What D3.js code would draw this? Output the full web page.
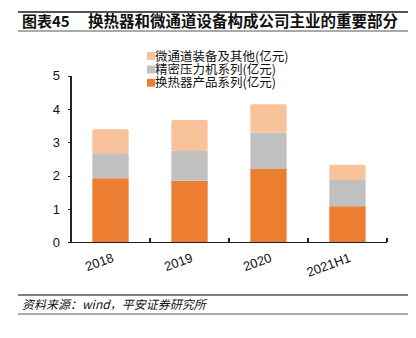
<!DOCTYPE html>
<html>
<head>
<meta charset="utf-8">
<title>换热器和微通道设备构成公司主业的重要部分</title>
<style>
body {
  margin: 0;
  background: white;
  font-family: "Liberation Sans", "Noto Sans CJK SC", sans-serif;
}
svg { display: block; }
.axis path, .axis line {
  stroke: #222;
  stroke-width: 1.3px;
  shape-rendering: crispEdges;
}
.axis text {
  font-family: "Liberation Sans", Arial, sans-serif;
  font-size: 13px;
  fill: #111;
}
</style>
<script src="https://d3js.org/d3.v7.min.js"></script>
</head>
<body>
<svg width="416" height="338"></svg>
<script>
  // data (亿元)
  const years = ['2018', '2019', '2020', '2021H1'];
  const exchanger = [1.92, 1.85, 2.20, 1.08];   // 换热器产品系列
  const press = [0.75, 0.89, 1.09, 0.79];       // 精密压力机系列
  const micro = [0.72, 0.93, 0.85, 0.46];       // 微通道装备及其他
  const yTicks = [0, 1, 2, 3, 4, 5];

  const series = [
    { name: '换热器产品系列(亿元)', values: exchanger, color: '#ED7D31' },
    { name: '精密压力机系列(亿元)', values: press, color: '#C0C0C0' },
    { name: '微通道装备及其他(亿元)', values: micro, color: '#F8C39B' }
  ];

  const svg = d3.select('svg');

  // title with rules
  svg.append('line').attr('x1', 18).attr('x2', 408).attr('y1', 12).attr('y2', 12)
    .attr('stroke', '#555').attr('stroke-width', 2);
  svg.append('line').attr('x1', 18).attr('x2', 408).attr('y1', 31).attr('y2', 31)
    .attr('stroke', '#555').attr('stroke-width', 1);
  svg.append('text').attr('x', 22).attr('y', 27)
    .attr('font-size', 15).attr('font-weight', 'bold').attr('fill', '#111')
    .attr('font-family', '"Noto Sans CJK SC", sans-serif')
    .text('图表45');
  svg.append('text').attr('x', 88).attr('y', 27)
    .attr('font-size', 15.5).attr('font-weight', 'bold').attr('fill', '#111')
    .attr('font-family', '"Noto Sans CJK SC", sans-serif')
    .text('换热器和微通道设备构成公司主业的重要部分');

  const x = d3.scaleBand().domain(years).range([71, 387])
    .paddingInner(0.54).paddingOuter(0.27);
  const y = d3.scaleLinear().domain([0, 5]).range([242.3, 75.7]);

  // stacked bars
  const rows = years.map((yr, i) => {
    const r = { year: yr };
    series.forEach((s, k) => { r['s' + k] = s.values[i]; });
    return r;
  });
  const stack = d3.stack().keys(series.map((s, k) => 's' + k))(rows);

  stack.forEach((layer, k) => {
    svg.append('g').selectAll('rect')
      .data(layer)
      .join('rect')
      .attr('x', d => x(d.data.year))
      .attr('width', x.bandwidth())
      .attr('y', d => y(d[1]))
      .attr('height', d => y(d[0]) - y(d[1]))
      .attr('rx', k === 2 ? 2 : 0.5)
      .attr('fill', series[k].color);
  });

  // y axis
  svg.append('g').attr('class', 'axis')
    .attr('transform', 'translate(71,0)')
    .call(d3.axisLeft(y).tickValues(yTicks).tickSize(3).tickPadding(8).tickFormat(d3.format('d')))
    .call(g => g.select('.domain').attr('d', `M-0,${y(5)}V${y(0)}`));

  // x axis: ticks at band boundaries, pointing up
  const xa = svg.append('g').attr('class', 'axis')
    .attr('transform', `translate(0,${y(0)})`);
  xa.append('line').attr('x1', 71).attr('x2', 387).attr('y1', 0).attr('y2', 0);
  const step = x.step();
  years.forEach(yr => {
    const bx = x(yr) + x.bandwidth() / 2 + step / 2;
    xa.append('line').attr('x1', bx).attr('x2', bx).attr('y1', 0).attr('y2', -4);
  });
  xa.selectAll('text.lab')
    .data(years)
    .join('text')
    .attr('class', 'lab')
    .attr('text-anchor', 'end')
    .attr('transform', d => `translate(${x(d) + x.bandwidth() / 2 + 4},${y(0) - 242.3 + 19}) rotate(-20)`)
    .text(d => d);

  // legend
  const legendOrder = [2, 1, 0];
  const lg = svg.append('g').attr('font-family', '"Noto Sans CJK SC", sans-serif')
    .attr('font-size', 12.5).attr('fill', '#111');
  legendOrder.forEach((k, i) => {
    const ly = 56 + i * 13.4;
    lg.append('rect').attr('x', 147).attr('y', ly - 4).attr('width', 8).attr('height', 8)
      .attr('rx', 1).attr('fill', series[k].color);
    lg.append('text').attr('x', 155).attr('y', ly + 4.5).text(series[k].name);
  });

  // source
  svg.append('line').attr('x1', 18).attr('x2', 408).attr('y1', 295).attr('y2', 295)
    .attr('stroke', '#555').attr('stroke-width', 1.5);
  svg.append('line').attr('x1', 18).attr('x2', 408).attr('y1', 314).attr('y2', 314)
    .attr('stroke', '#555').attr('stroke-width', 1);
  svg.append('text').attr('x', 22).attr('y', 309)
    .attr('font-size', 12).attr('font-style', 'italic').attr('fill', '#111')
    .attr('font-family', '"Noto Sans CJK SC", sans-serif')
    .text('资料来源：wind，平安证券研究所');
</script>
</body>
</html>
